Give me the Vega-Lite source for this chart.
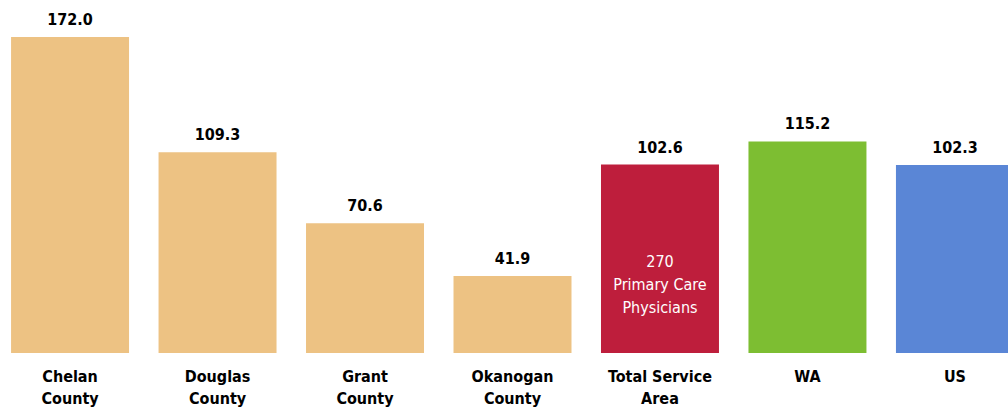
{
  "$schema": "https://vega.github.io/schema/vega-lite/v6.json",
  "autosize": "none",
  "padding": {"top": 0, "left": 0, "right": 0, "bottom": 55},
  "width": 1008,
  "height": 353,
  "background": "white",
  "config": {"view": {"stroke": null}},
  "data": {"values": [
    {"area": "Chelan County", "rate": 172.0, "group": "county", "note": ""},
    {"area": "Douglas County", "rate": 109.3, "group": "county", "note": ""},
    {"area": "Grant County", "rate": 70.6, "group": "county", "note": ""},
    {"area": "Okanogan County", "rate": 41.9, "group": "county", "note": ""},
    {"area": "Total Service Area", "rate": 102.6, "group": "tsa", "note": "270\nPrimary Care\nPhysicians"},
    {"area": "WA", "rate": 115.2, "group": "wa", "note": ""},
    {"area": "US", "rate": 102.3, "group": "us", "note": ""}
  ]},
  "encoding": {
    "x": {
      "field": "area", "type": "nominal", "sort": null,
      "scale": {"range": [0, 1025], "paddingInner": 0.2, "paddingOuter": 0.075},
      "axis": {
        "title": null, "domain": false, "ticks": false, "labelAngle": 0,
        "labelPadding": 15, "labelFont": "'DejaVu Sans Condensed', 'Liberation Sans', sans-serif", "labelFontWeight": "bold",
        "labelFontSize": 16, "labelColor": "#000000", "labelLineHeight": 22, "labelBaseline": "top",
        "labelExpr": "datum.label == 'Total Service Area' ? ['Total Service', 'Area'] : split(datum.label, ' ')"
      }
    }
  },
  "layer": [
    {
      "mark": {"type": "bar", "clip": true},
      "encoding": {
        "y": {"field": "rate", "type": "quantitative", "scale": {"domain": [0, 192.2], "nice": false}, "axis": null},
        "color": {"field": "group", "type": "nominal", "legend": null,
          "scale": {"domain": ["county", "tsa", "wa", "us"], "range": ["#EDC283", "#BE1E3C", "#7DBE32", "#5A86D6"]}}
      }
    },
    {
      "mark": {"type": "text", "baseline": "bottom", "dy": -9, "font": "'DejaVu Sans Condensed', 'Liberation Sans', sans-serif", "fontWeight": "bold", "fontSize": 16, "color": "#000000"},
      "encoding": {
        "y": {"field": "rate", "type": "quantitative"},
        "text": {"field": "rate", "type": "quantitative", "format": ".1f"}
      }
    },
    {
      "mark": {"type": "text", "baseline": "middle", "dy": -91, "lineBreak": "\n", "lineHeight": 23, "font": "'DejaVu Sans Condensed', 'Liberation Sans', sans-serif", "fontSize": 16, "color": "#FFFFFF"},
      "encoding": {
        "y": {"datum": 0, "type": "quantitative"},
        "text": {"field": "note"}
      }
    }
  ]
}
